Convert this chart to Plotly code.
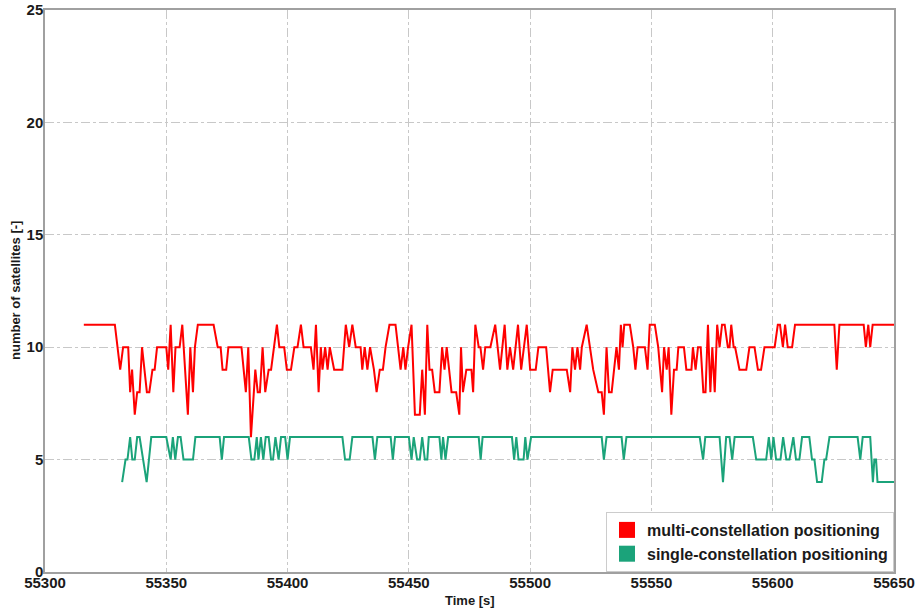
import plotly.graph_objects as go

# multi-constellation positioning (red) : time [s], number of satellites
multi_t = [55316, 55328.8, 55331, 55332.2, 55334.3, 55335.1, 55335.9, 55337, 55338, 55339, 55340, 55342, 55343,
           55344.3, 55345.2, 55346.2, 55350, 55350.8, 55351.8, 55352.9, 55353.8, 55355.5, 55356.6, 55358.9, 55359.9,
           55361, 55361.8, 55363, 55369.5, 55371.2, 55372.4, 55373.2, 55374.7, 55375.6, 55381, 55382.8, 55383.8,
           55384.9, 55386.7, 55387.7, 55388.6, 55389.7, 55390.8, 55392.2, 55393.2, 55394.3, 55395.6, 55396.6,
           55398.6, 55399.7, 55401.4, 55402.8, 55404.1, 55405.5, 55406.6, 55409.6, 55410.7, 55411.7, 55412.8,
           55413.7, 55414.4, 55415.5, 55416.5, 55417.4, 55419.2, 55422.6, 55424, 55425.4, 55426.7, 55428.1,
           55430.1, 55430.8, 55431.8, 55432.9, 55434, 55435.6, 55436.7, 55438, 55439.3, 55440.4, 55442, 55444.5,
           55446.6, 55447.7, 55448.6, 55449.7, 55451.1, 55452.5, 55454.5, 55455.5, 55456.6, 55457.6, 55458.5,
           55459.6, 55460.7, 55462.6, 55463.7, 55464.7, 55465.6, 55467.6, 55469.5, 55470.8, 55471.5, 55472.3,
           55473.7, 55475.8, 55476.5, 55477.4, 55478.8, 55479.5, 55480.6, 55481.5, 55483.6, 55485.6, 55486.6,
           55487.6, 55489.5, 55490.6, 55491.7, 55493, 55495, 55496.3, 55498.6, 55500, 55502.3, 55503.4, 55506.6,
           55508.2, 55509.3, 55515.1, 55516.5, 55517.4, 55518.5, 55519.5, 55520.6, 55521.3, 55523.3, 55524.7,
           55526, 55528.1, 55529.5, 55530.4, 55531.5, 55532.5, 55533.6, 55534.6, 55535.6, 55536.6, 55537.4,
           55538.1, 55538.8, 55541.1, 55542.5, 55543.4, 55544.3, 55547.3, 55548.4, 55549.3, 55551.4, 55552.8,
           55554.4, 55555.2, 55556.3, 55557.1, 55558.2, 55559.3, 55560.4, 55561.1, 55563.4, 55564.4, 55566.5,
           55567.1, 55568.2, 55569.2, 55570.3, 55571.4, 55572.3, 55573.3, 55574.3, 55575.1, 55576.1, 55577.1,
           55578.1, 55579.1, 55580.2, 55581.5, 55582.2, 55582.9, 55583.9, 55584.5, 55586.3, 55589.1, 55590.4,
           55592.5, 55593.9, 55595.2, 55596.6, 55600.8, 55602.1, 55603, 55604.2, 55605.1, 55606.2, 55608,
           55609.2, 55625.4, 55626.4, 55627.5, 55637.5, 55638.4, 55639.4, 55640.2, 55641.2, 55650]
multi_n = [11, 11, 9, 10, 10, 8, 9, 7, 8, 8, 10, 8, 8,
           9, 9, 10, 10, 9, 11, 8, 10, 10, 11, 7, 10,
           8, 10, 11, 11, 10, 10, 9, 9, 10, 10, 8, 10,
           6, 9, 8, 8, 10, 8, 9, 9, 10, 11, 10,
           10, 9, 9, 10, 10, 11, 10, 10, 9, 11, 8,
           10, 9, 10, 9, 10, 9, 9, 11, 10, 11, 10,
           10, 9, 10, 9, 10, 9, 8, 9, 9, 10, 11, 11,
           9, 10, 9, 10, 11, 7, 7, 9, 7, 11, 9,
           9, 8, 8, 10, 9, 10, 8, 8, 7, 10, 8,
           9, 9, 8, 11, 10, 10, 9, 10, 10, 11, 10,
           9, 11, 9, 10, 9, 11, 9, 11, 9, 9, 10, 10,
           8, 9, 9, 8, 10, 9, 10, 9, 10, 11, 10,
           9, 8, 8, 7, 10, 8, 8, 9, 10, 9, 11,
           10, 11, 11, 10, 9, 10, 10, 9, 11, 11, 10,
           8, 10, 9, 10, 7, 9, 9, 10, 10, 9, 9,
           10, 9, 10, 10, 8, 8, 11, 8, 10, 8, 11,
           10, 11, 11, 10, 10, 11, 10, 10, 9, 9, 10,
           10, 9, 9, 10, 10, 11, 11, 10, 11, 10, 10,
           11, 11, 9, 11, 11, 10, 11, 10, 11, 11]

# single-constellation positioning (green)
single_t = [55331.8, 55333.2, 55334, 55335.1, 55336, 55337, 55338, 55339, 55341.9, 55343.8, 55350, 55351.8,
            55352.7, 55353.7, 55354.8, 55355.9, 55357.1, 55361, 55362, 55372, 55372.9, 55373.8, 55384, 55385.1,
            55386.3, 55387.3, 55388, 55389, 55390, 55391, 55392.2, 55393.2, 55394, 55395, 55396.3, 55397.3,
            55399, 55400, 55401, 55422.6, 55423.7, 55425.6, 55426.7, 55435, 55436, 55437, 55442.5, 55443.4,
            55444.3, 55450, 55451.1, 55452, 55453.4, 55454.5, 55455.5, 55456.6, 55457.6, 55458.2, 55462.6,
            55463.4, 55464.1, 55465.1, 55466.2, 55478.8, 55479.6, 55480.4, 55492.5, 55493.4, 55494.3, 55495.2,
            55497.3, 55498, 55498.9, 55500.4, 55529.5, 55530.4, 55531.5, 55537.7, 55538.6, 55539.7, 55569.9,
            55571.3, 55572.2, 55578.1, 55579.5, 55580.8, 55582.2, 55583.3, 55584.3, 55591.8, 55593.2, 55597.3,
            55598.4, 55599.4, 55600.3, 55601.4, 55603.2, 55604.3, 55605.6, 55606.9, 55608.5, 55609.6, 55611,
            55612.1, 55615.1, 55616.2, 55617.2, 55618.3, 55620.2, 55621.3, 55622, 55623.4, 55635, 55636.1,
            55637.1, 55640.2, 55641.3, 55641.9, 55642.6, 55643.2, 55650]
single_n = [4, 5, 5, 6, 5, 5, 6, 6, 4, 6, 6, 5,
            6, 5, 6, 6, 5, 5, 6, 6, 5, 6, 6, 5,
            5, 6, 5, 6, 5, 6, 6, 5, 5, 6, 5, 6,
            6, 5, 6, 6, 5, 5, 6, 6, 5, 6, 6, 5,
            6, 6, 5, 6, 5, 5, 6, 5, 5, 6, 6,
            5, 6, 5, 6, 6, 5, 6, 6, 5, 6, 5,
            5, 6, 5, 6, 6, 5, 6, 6, 5, 6, 6,
            5, 6, 6, 4, 6, 6, 5, 6, 6, 5, 5,
            6, 5, 6, 5, 5, 6, 5, 5, 6, 5, 5,
            6, 6, 5, 5, 4, 4, 5, 5, 6, 6, 5,
            6, 6, 4, 5, 5, 4, 4]

series_names = ["multi-constellation positioning", "single-constellation positioning"]
colors = ["#ff0000", "#1ba37a"]

x_ticks = [55300, 55350, 55400, 55450, 55500, 55550, 55600, 55650]
y_ticks = [0, 5, 10, 15, 20, 25]
x_title = "Time [s]"
y_title = "number of satellites [-]"

fig = go.Figure()
for t, n, c in [(multi_t, multi_n, colors[0]), (single_t, single_n, colors[1])]:
    fig.add_trace(go.Scatter(x=t, y=n, mode="lines", line=dict(color=c, width=2),
                             showlegend=False, hoverinfo="skip"))
for name, c in zip(series_names, colors):
    fig.add_trace(go.Scatter(x=[None], y=[None], mode="markers", name="<b>" + name + "</b>",
                             marker=dict(symbol="square", size=16, color=c)))

font_fam = "Liberation Sans, Arial, sans-serif"
axis_common = dict(
    showline=True, linecolor="#a0a0a0", linewidth=1.5, mirror=True,
    showgrid=True, gridcolor="#c8c8c8", griddash="dashdot", gridwidth=1,
    zeroline=False, ticks="", automargin=False,
    tickfont=dict(family=font_fam, size=15, color="#1a1a1a"),
)

W, H = 917, 608
L, R, T, B = 45, 23, 10, 36
plot_w, plot_h = W - L - R, H - T - B

fig.update_layout(
    width=W, height=H,
    margin=dict(l=L, r=R, t=T, b=B),
    paper_bgcolor="white", plot_bgcolor="white",
    xaxis=dict(range=[55300, 55650], tickvals=x_ticks,
               ticktext=["<b>%d</b>" % v for v in x_ticks], ticklabelstandoff=-4, **axis_common),
    yaxis=dict(range=[0, 25], tickvals=y_ticks,
               ticktext=["<b>%d</b>" % v for v in y_ticks], ticklabelstandoff=-3, **axis_common),
    legend=dict(x=1, y=0, xanchor="right", yanchor="bottom",
                bgcolor="white", bordercolor="#cccccc", borderwidth=1,
                font=dict(family=font_fam, size=16, color="#1a1a1a"),
                tracegroupgap=0, itemwidth=30),
    annotations=[
        dict(text="<b>" + x_title + "</b>", xref="paper", yref="paper", x=0.5, y=-28 / plot_h,
             xanchor="center", yanchor="middle", showarrow=False,
             font=dict(family=font_fam, size=13, color="#1a1a1a")),
        dict(text="<b>" + y_title + "</b>", xref="paper", yref="paper", x=-30 / plot_w, y=0.5,
             xanchor="center", yanchor="middle", showarrow=False, textangle=-90,
             font=dict(family=font_fam, size=13, color="#1a1a1a")),
    ],
)

fig.write_html("out.html", config={"displayModeBar": False},
               post_script="document.body.style.margin='0';")
